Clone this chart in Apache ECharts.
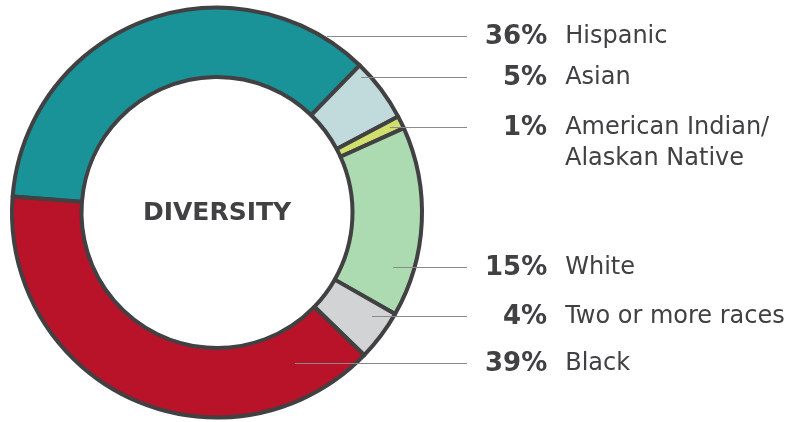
<!DOCTYPE html>
<html>
<head>
<meta charset="utf-8">
<script src="https://cdn.jsdelivr.net/npm/echarts@6/dist/echarts.min.js"></script>
<style>
  html, body { margin: 0; padding: 0; background: #fff; }
  #chart { width: 793px; height: 422px; }
</style>
</head>
<body>
<div id="chart"></div>
<script>
var categories = ['Hispanic', 'Asian', 'American Indian/\nAlaskan Native', 'White', 'Two or more races', 'Black'];
var percents = [36, 5, 1, 15, 4, 39];
var colors = ['#199298', '#c1dadb', '#d0e06c', '#addbb1', '#d1d3d4', '#b81328'];

// label placement (layout only)
var labelY = [36, 77, 127, 267, 316, 363];
var lineStartX = [327, 361, 390, 393, 372, 295];
var labelX = 467;
var pctRight = 547;
var nameX = 565;
var ink = '#414042';
var pctFont = 'bold 26px "DejaVu Sans"';

(function () {
  var ctx = document.createElement('canvas').getContext('2d');
  function textW(str, font) { ctx.font = font; return ctx.measureText(str).width; }

  var chart = echarts.init(document.getElementById('chart'), null, { renderer: 'canvas' });
  var data = categories.map(function (c, i) {
    return { name: c, value: percents[i], itemStyle: { color: colors[i] } };
  });

  // leader lines drawn over the ring
  var lines = labelY.map(function (y, i) {
    return {
      type: 'line', z: 100,
      shape: { x1: lineStartX[i], y1: y + 0.5, x2: labelX, y2: y + 0.5 },
      style: { stroke: '#8a8a8a', lineWidth: 1 }
    };
  });

  chart.setOption({
    backgroundColor: '#fff',
    animation: false,
    graphic: [{
      type: 'text', x: 217, y: 213, z: 100,
      style: {
        text: 'DIVERSITY', fill: ink, align: 'center', verticalAlign: 'middle',
        font: 'bold 25px "DejaVu Sans"'
      }
    }].concat(lines),
    series: [{
      type: 'pie',
      center: [217, 212.5],
      radius: [135.5, 205],
      startAngle: 175.5,
      clockwise: true,
      avoidLabelOverlap: false,
      silent: true,
      itemStyle: { borderColor: ink, borderWidth: 4 },
      label: {
        show: true,
        position: 'outside',
        color: ink,
        fontFamily: 'DejaVu Sans',
        formatter: function (p) {
          var parts = p.name.split('\n');
          var pct = p.value + '%';
          var lead = (pctRight - labelX) - textW(pct, pctFont);
          var s = '{a' + i0(lead) + '|}{p|' + pct + '}{g|}{n|' + parts[0] + '}';
          for (var i = 1; i < parts.length; i++) s += '\n{s|}{n|' + parts[i] + '}';
          return s;
        },
        rich: buildRich()
      },
      labelLine: { show: false },
      labelLayout: function (params) {
        var i = params.dataIndex;
        return {
          x: labelX,
          y: labelY[i] - 14.5,
          align: 'left',
          verticalAlign: 'top'
        };
      },
      data: data
    }]
  });

  function i0(v) { return Math.max(0, Math.round(v)); }

  function buildRich() {
    var r = {
      p: { fontFamily: 'DejaVu Sans', fontWeight: 'bold', fontSize: 26, color: ink, lineHeight: 31 },
      g: { width: nameX - pctRight, lineHeight: 31 },
      s: { width: nameX - labelX, lineHeight: 31 },
      n: { fontFamily: 'DejaVu Sans', fontSize: 24, color: ink, lineHeight: 31 }
    };
    // spacers used to right-align the percentages
    for (var w = 0; w <= 80; w++) r['a' + w] = { width: w, lineHeight: 31 };
    return r;
  }
})();
</script>
</body>
</html>
